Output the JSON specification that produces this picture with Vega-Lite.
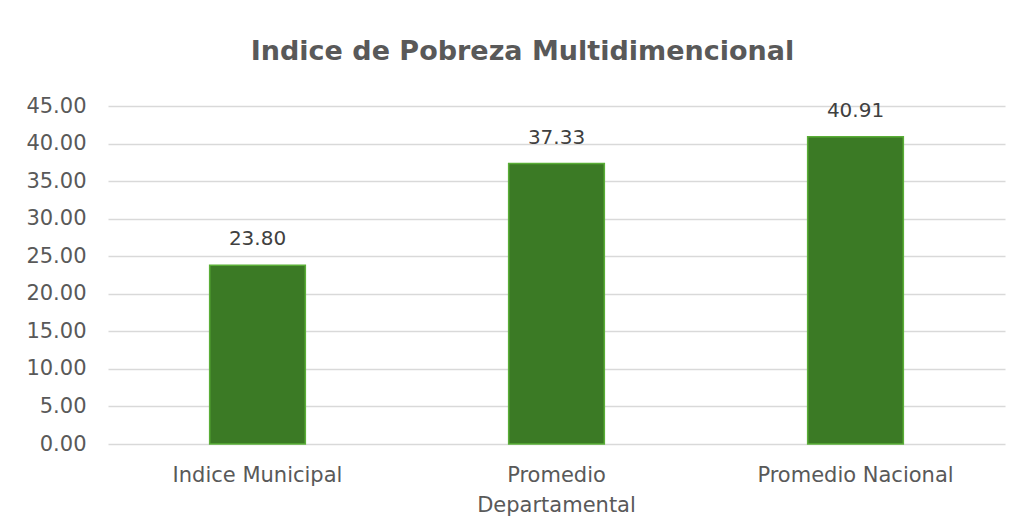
{
  "$schema": "https://vega.github.io/schema/vega-lite/v6.json",
  "width": 897,
  "height": 338,
  "autosize": {"type": "none"},
  "padding": {"left": 108, "top": 106, "right": 13, "bottom": 83},
  "background": "white",
  "title": {
    "text": "Indice de Pobreza Multidimencional",
    "font": "DejaVu Sans",
    "fontSize": 27,
    "fontWeight": "bold",
    "color": "#595959",
    "anchor": "middle",
    "dx": -34,
    "offset": 29
  },
  "data": {
    "values": [
      {"categoria": "Indice Municipal", "valor": 23.80},
      {"categoria": "Promedio Departamental", "valor": 37.33},
      {"categoria": "Promedio Nacional", "valor": 40.91}
    ]
  },
  "encoding": {
    "x": {
      "field": "categoria",
      "type": "nominal",
      "sort": null,
      "scale": {"paddingInner": 0.68, "paddingOuter": 0.34},
      "axis": {
        "title": null,
        "labelAngle": 0,
        "ticks": false,
        "domain": false,
        "labelFont": "DejaVu Sans",
        "labelFontSize": 21,
        "labelColor": "#595959",
        "labelPadding": 20,
        "labelLineHeight": 30,
        "labelLimit": 400,
        "labelOverlap": false,
        "labelExpr": "datum.label == 'Promedio Departamental' ? ['Promedio', 'Departamental'] : datum.label"
      }
    },
    "y": {
      "field": "valor",
      "type": "quantitative",
      "scale": {"domain": [0, 45], "nice": false},
      "axis": {
        "title": null,
        "values": [0, 5, 10, 15, 20, 25, 30, 35, 40, 45],
        "format": ".2f",
        "ticks": false,
        "domain": false,
        "grid": true,
        "gridColor": "#D9D9D9",
        "gridWidth": 1.5,
        "labelFont": "DejaVu Sans",
        "labelFontSize": 21,
        "labelColor": "#595959",
        "labelPadding": 22
      }
    }
  },
  "layer": [
    {
      "mark": {"type": "bar", "color": "#3B7A25", "stroke": "#5AAE37", "strokeWidth": 1.5}
    },
    {
      "mark": {"type": "text", "baseline": "bottom", "dy": -16, "font": "DejaVu Sans", "fontSize": 20, "color": "#404040"},
      "encoding": {
        "text": {"field": "valor", "type": "quantitative", "format": ".2f"}
      }
    }
  ],
  "config": {"view": {"stroke": null}}
}
